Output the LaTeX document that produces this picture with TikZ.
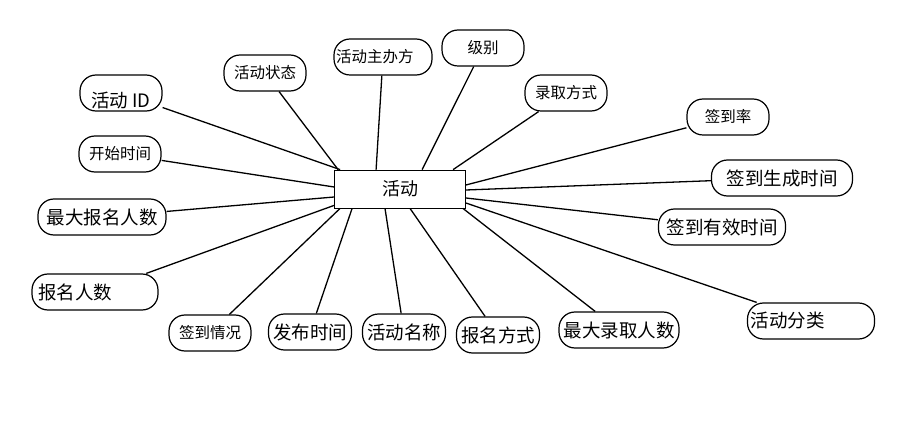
\documentclass[tikz,border=0pt]{standalone}
\usepackage{fontspec}
\setmainfont{Noto Sans CJK SC}
\usetikzlibrary{positioning}
\tikzset{
  ent/.style={draw=black,line width=0.8pt,minimum width=131pt,minimum height=38pt,
    inner sep=0pt,font=\fontsize{18}{20}\selectfont},
  attr/.style={draw=black,line width=1.2pt,rounded corners=16pt,minimum width=82pt,
    minimum height=36pt,inner sep=2pt,font=\fontsize{15.5}{17}\selectfont},
  big/.style={font=\fontsize{18.5}{20}\selectfont},
  link/.style={line width=1.3pt},
}

\begin{document}
\begin{tikzpicture}[x=1pt,y=-1pt]
  \useasboundingbox (0,0) rectangle (908,422);
  % entity
  \node[ent] (act) at (400,189) {活动};
  % attributes, clockwise from upper left
  \node[attr,big] (id) at (121,93) {\raisebox{-15pt}[0pt][0pt]{活动 ID}};
  \node[attr] (state) at (265,73) {活动状态};
  \node[attr,text width=94pt,inner xsep=2pt,align=left] (host) at (383,57) {活动主办方};
  \node[attr] (level) at (483,48) {级别};
  \node[attr] (admit) at (566,93) {录取方式};
  \node[attr] (rate) at (728,117) {签到率};
  \node[attr,big,minimum width=141pt] (gentime) at (782,178) {签到生成时间};
  \node[attr,big,minimum width=127pt] (valid) at (722,227) {签到有效时间};
  \node[attr,big,text width=121pt,inner xsep=3pt,align=left] (cat) at (811,321) {活动分类};
  \node[attr,big,minimum width=120pt] (maxadmit) at (619,330) {最大录取人数};
  \node[attr,big,minimum width=83pt] (regway) at (498,335) {报名方式};
  \node[attr,big,minimum width=83pt] (name) at (404,332) {活动名称};
  \node[attr,big,minimum width=83pt] (pub) at (310,332) {发布时间};
  \node[attr] (signin) at (210,333) {签到情况};
  \node[attr,big,text width=114pt,inner xsep=6pt,align=left] (regnum) at (95,292) {报名人数};
  \node[attr,big,minimum width=128pt] (maxreg) at (102,217) {最大报名人数};
  \node[attr] (start) at (120,154) {开始时间};
  % links
  \draw[link] (id) -- ([xshift=6pt]act.north west);
  \draw[link] (state) -- ([xshift=4pt]act.north west);
  \draw[link] (host) -- ([xshift=42pt]act.north west);
  \draw[link] (level) -- ([xshift=88pt]act.north west);
  \draw[link] (admit) -- ([xshift=119pt]act.north west);
  \draw[link] (rate) -- ([yshift=4pt]act.east);
  \draw[link] (gentime) -- ([yshift=-1pt]act.east);
  \draw[link] (valid) -- ([yshift=-9pt]act.east);
  \draw[link] (cat) -- ([yshift=-14pt]act.east);
  \draw[link] (maxadmit) -- ([xshift=-3pt]act.south east);
  \draw[link] (regway) -- ([xshift=10pt]act.south);
  \draw[link] (name) -- ([xshift=-15pt]act.south);
  \draw[link] (pub) -- ([xshift=18pt]act.south west);
  \draw[link] (signin) -- ([xshift=6pt]act.south west);
  \draw[link] (regnum) -- ([yshift=3pt]act.south west);
  \draw[link] (maxreg) -- ([yshift=-8pt]act.west);
  \draw[link] (start) -- ([yshift=2pt]act.west);
\end{tikzpicture}
\end{document}
